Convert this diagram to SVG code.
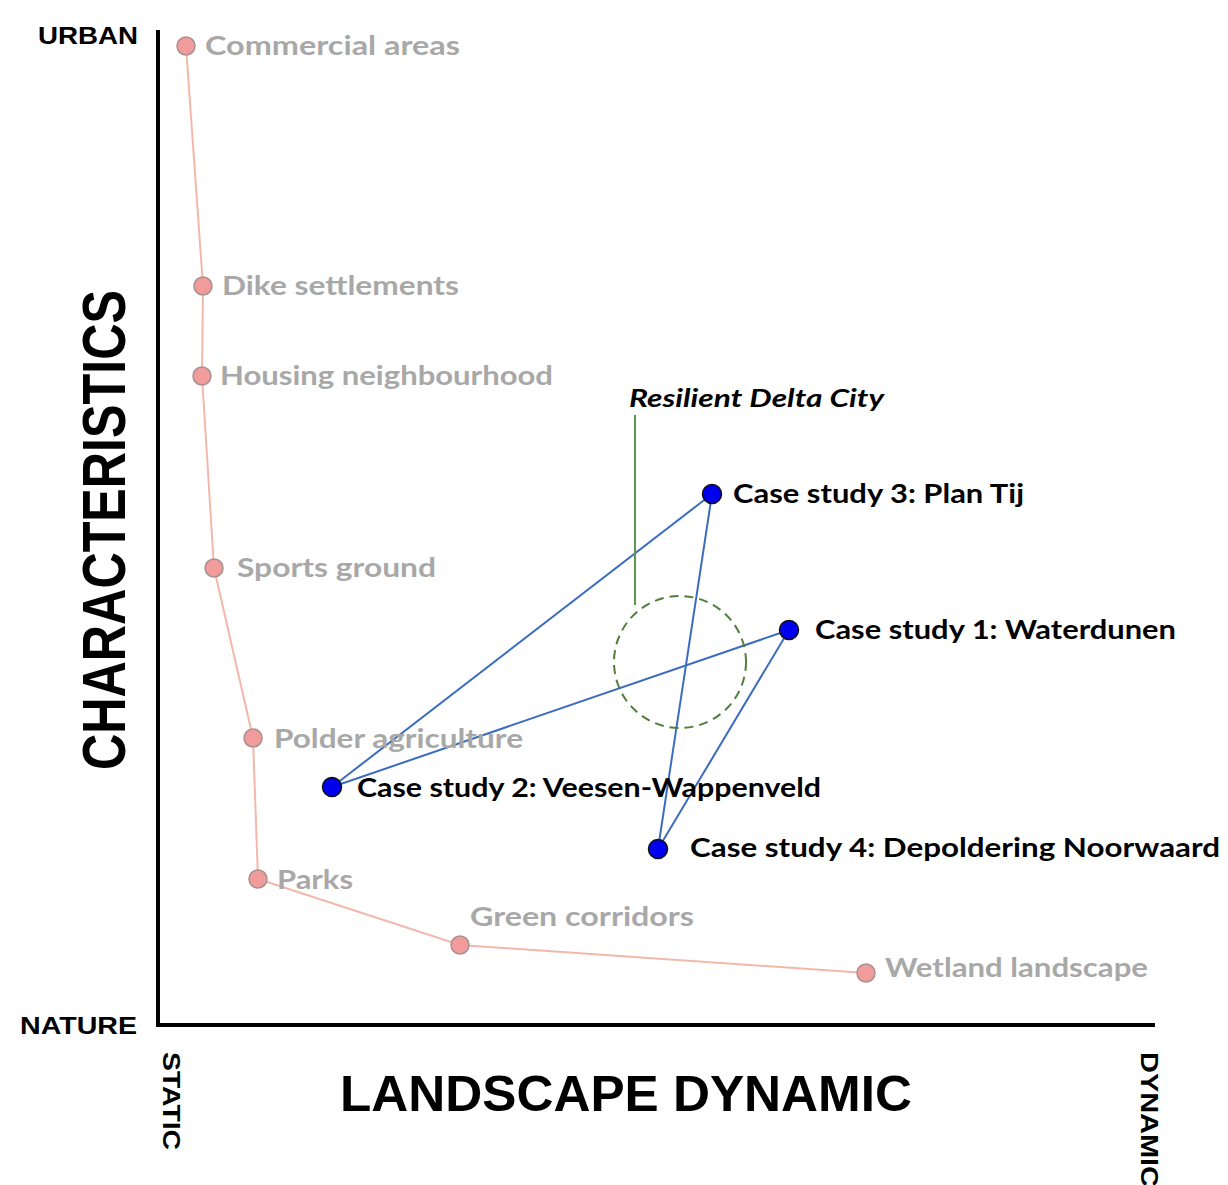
<svg xmlns="http://www.w3.org/2000/svg" width="1228" height="1185" viewBox="0 0 1228 1185">
<style>
.ax{font-family:"Liberation Sans",Arial,sans-serif;font-weight:bold;fill:#000}
.gl{font-family:Lato,"Open Sans",sans-serif;font-weight:bold;font-size:26px;fill:#a8a8a8}
.cl{font-family:Lato,"Open Sans",sans-serif;font-weight:bold;font-size:26px;fill:#000}
.pn{fill:#f29b9b;stroke:#a89090;stroke-width:1.5}
.bn{fill:#0000ee;stroke:#111;stroke-width:1.5}
.bl{stroke:#3b6cc0;stroke-width:2;fill:none}
</style>
<rect width="1228" height="1185" fill="#fff"/>
<g id="axes">
<line x1="158" y1="30" x2="158" y2="1027" stroke="#000" stroke-width="4"/>
<line x1="156" y1="1025" x2="1155" y2="1025" stroke="#000" stroke-width="4"/>
<text class="ax" x="38" y="44" font-size="24" textLength="100" lengthAdjust="spacingAndGlyphs">URBAN</text>
<text class="ax" x="20" y="1034" font-size="24" textLength="117" lengthAdjust="spacingAndGlyphs">NATURE</text>
<text class="ax" transform="translate(125,770) rotate(-90)" font-size="62" textLength="480" lengthAdjust="spacingAndGlyphs">CHARACTERISTICS</text>
<text class="ax" x="340" y="1111" font-size="50" textLength="572" lengthAdjust="spacingAndGlyphs">LANDSCAPE DYNAMIC</text>
<text class="ax" transform="translate(163,1052) rotate(90)" font-size="24" textLength="98" lengthAdjust="spacingAndGlyphs">STATIC</text>
<text class="ax" transform="translate(1141,1052) rotate(90)" font-size="24" textLength="135" lengthAdjust="spacingAndGlyphs">DYNAMIC</text>
</g>
<g id="connectors">
<polyline points="186,46 203,286 202,376 214,568 253,738 258,879 460,945 866,973" fill="none" stroke="#f2b9aa" stroke-width="2"/>
<line class="bl" x1="332" y1="787" x2="712" y2="494"/>
<line class="bl" x1="332" y1="787" x2="789" y2="630"/>
<line class="bl" x1="712" y1="494" x2="658" y2="849"/>
<line class="bl" x1="789" y1="630" x2="658" y2="849"/>
<line x1="635" y1="415" x2="635" y2="605" stroke="#5f9550" stroke-width="2"/>
</g>
<g id="resilient-delta-city">
<circle cx="680" cy="662" r="66" fill="none" stroke="#4f7f3a" stroke-width="2" stroke-dasharray="9,6"/>
<text x="629" y="407" font-family="Lato,'Open Sans',sans-serif" font-weight="bold" font-style="italic" font-size="24" textLength="255" lengthAdjust="spacingAndGlyphs">Resilient Delta City</text>
</g>
<g id="n-commercial"><circle class="pn" cx="186" cy="46" r="9"/><text class="gl" x="205" y="55" textLength="255" lengthAdjust="spacingAndGlyphs">Commercial areas</text></g>
<g id="n-dike"><circle class="pn" cx="203" cy="286" r="9"/><text class="gl" x="222" y="295" textLength="237" lengthAdjust="spacingAndGlyphs">Dike settlements</text></g>
<g id="n-housing"><circle class="pn" cx="202" cy="376" r="9"/><text class="gl" x="220" y="385" textLength="333" lengthAdjust="spacingAndGlyphs">Housing neighbourhood</text></g>
<g id="n-sports"><circle class="pn" cx="214" cy="568" r="9"/><text class="gl" x="237" y="577" textLength="199" lengthAdjust="spacingAndGlyphs">Sports ground</text></g>
<g id="n-polder"><circle class="pn" cx="253" cy="738" r="9"/><text class="gl" x="274" y="748" textLength="249" lengthAdjust="spacingAndGlyphs">Polder agriculture</text></g>
<g id="n-parks"><circle class="pn" cx="258" cy="879" r="9"/><text class="gl" x="277" y="889" textLength="76" lengthAdjust="spacingAndGlyphs">Parks</text></g>
<g id="n-green"><circle class="pn" cx="460" cy="945" r="9"/><text class="gl" x="470" y="926" textLength="224" lengthAdjust="spacingAndGlyphs">Green corridors</text></g>
<g id="n-wetland"><circle class="pn" cx="866" cy="973" r="9"/><text class="gl" x="885" y="977" textLength="263" lengthAdjust="spacingAndGlyphs">Wetland landscape</text></g>
<g id="cs3"><circle class="bn" cx="712" cy="494" r="9.5"/><text class="cl" x="733" y="503" textLength="291" lengthAdjust="spacingAndGlyphs">Case study 3: Plan Tij</text></g>
<g id="cs1"><circle class="bn" cx="789" cy="630" r="9.5"/><text class="cl" x="815" y="639" textLength="361" lengthAdjust="spacingAndGlyphs">Case study 1: Waterdunen</text></g>
<g id="cs2"><circle class="bn" cx="332" cy="787" r="9.5"/><text class="cl" x="357" y="797" textLength="464" lengthAdjust="spacingAndGlyphs">Case study 2: Veesen-Wappenveld</text></g>
<g id="cs4"><circle class="bn" cx="658" cy="849" r="9.5"/><text class="cl" x="690" y="857" textLength="530" lengthAdjust="spacingAndGlyphs">Case study 4: Depoldering Noorwaard</text></g>
</svg>
